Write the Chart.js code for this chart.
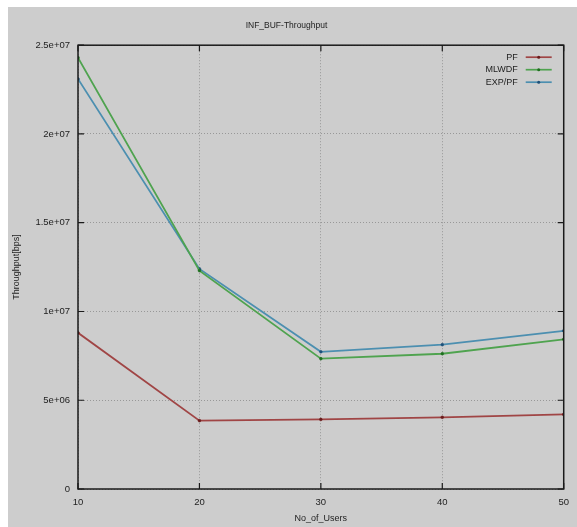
<!DOCTYPE html>
<html>
<head>
<meta charset="utf-8">
<script src="https://cdn.jsdelivr.net/npm/chart.js@4"></script>
<style>
  html, body { margin: 0; padding: 0; background: #ffffff; }
  #wrap { position: absolute; left: 8px; top: 7px; width: 569px; height: 520px; background: #cdcdcd; }
</style>
</head>
<body>
<div id="wrap"><canvas id="chart" width="569" height="520"></canvas></div>
<script>
// values
const users = [10, 20, 30, 40, 50];
const pf = [8.8e6, 3.85e6, 3.92e6, 4.04e6, 4.2e6];
const mlwdf = [24.3e6, 12.3e6, 7.34e6, 7.62e6, 8.43e6];
const exppf = [23.1e6, 12.4e6, 7.73e6, 8.13e6, 8.91e6];
const yTickLabels = { 0: '0', 5e6: '5e+06', 1e7: '1e+07', 1.5e7: '1.5e+07', 2e7: '2e+07', 2.5e7: '2.5e+07' };

const font = 'Liberation Sans';

function pts(vals) {
  return users.map((u, i) => ({ x: u, y: vals[i] }));
}

// gnuplot style frame with inward ticks
const framePlugin = {
  id: 'frame',
  afterDraw(chart) {
    const ctx = chart.ctx;
    const a = chart.chartArea;
    const xs = chart.scales.x, ys = chart.scales.y;
    ctx.save();
    ctx.strokeStyle = '#1a1a1a';
    ctx.lineWidth = 1.5;
    ctx.strokeRect(a.left, a.top, a.right - a.left, a.bottom - a.top);
    ctx.lineWidth = 1.2;
    ctx.beginPath();
    xs.ticks.forEach(t => {
      const x = xs.getPixelForValue(t.value);
      ctx.moveTo(x, a.bottom); ctx.lineTo(x, a.bottom - 6);
      ctx.moveTo(x, a.top); ctx.lineTo(x, a.top + 6);
    });
    ys.ticks.forEach(t => {
      const y = ys.getPixelForValue(t.value);
      ctx.moveTo(a.left, y); ctx.lineTo(a.left + 6, y);
      ctx.moveTo(a.right, y); ctx.lineTo(a.right - 6, y);
    });
    ctx.stroke();

    // legend, top right inside the plot
    ctx.font = '9px "' + font + '"';
    ctx.textAlign = 'right';
    ctx.textBaseline = 'middle';
    chart.data.datasets.forEach((ds, i) => {
      const y = a.top + 12 + i * 12.5;
      const xr = a.right - 46;
      ctx.fillStyle = '#222';
      ctx.fillText(ds.label, xr, y);
      ctx.strokeStyle = ds.borderColor;
      ctx.lineWidth = 1.7;
      ctx.beginPath();
      ctx.moveTo(xr + 8, y); ctx.lineTo(xr + 34, y);
      ctx.stroke();
      ctx.fillStyle = ds.pointBackgroundColor;
      ctx.beginPath();
      ctx.arc(xr + 21, y, 1.5, 0, Math.PI * 2);
      ctx.fill();
    });
    ctx.restore();
  }
};

function series(label, vals, line, dot) {
  return {
    label: label,
    data: pts(vals),
    borderColor: line,
    borderWidth: 1.8,
    pointBackgroundColor: dot,
    pointBorderColor: dot,
    pointRadius: 1.4,
    pointBorderWidth: 0.5,
    tension: 0,
    fill: false
  };
}

new Chart(document.getElementById('chart'), {
  type: 'line',
  data: {
    datasets: [
      series('PF', pf, '#a04545', '#6a1a1a'),
      series('MLWDF', mlwdf, '#4fa34f', '#1f6f1f'),
      series('EXP/PF', exppf, '#4c8fb0', '#1d4f78')
    ]
  },
  options: {
    responsive: false,
    animation: false,
    layout: { padding: { left: 0, right: 12, top: 0, bottom: 0 } },
    plugins: {
      legend: { display: false },
      tooltip: { enabled: false },
      title: {
        display: true,
        text: 'INF_BUF-Throughput',
        color: '#222',
        font: { family: font, size: 8.5, weight: 'normal' },
        padding: { top: 14, bottom: 14 }
      }
    },
    scales: {
      x: {
        type: 'linear',
        min: 10,
        max: 50,
        afterFit(scale) { scale.height = 38; },
        ticks: {
          stepSize: 10,
          padding: 8,
          color: '#222',
          font: { family: font, size: 9.5 }
        },
        grid: { color: '#8a8a8a', lineWidth: 0.8, drawTicks: false },
        border: { display: false, dash: [1, 2] },
        title: {
          display: true,
          text: 'No_of_Users',
          color: '#222',
          font: { family: font, size: 9 },
          padding: { top: 0, bottom: 3 }
        }
      },
      y: {
        min: 0,
        max: 2.5e7,
        afterFit(scale) { scale.width = 70; },
        ticks: {
          stepSize: 5e6,
          padding: 8,
          color: '#222',
          font: { family: font, size: 9.5 },
          callback: v => yTickLabels[v]
        },
        grid: { color: '#8a8a8a', lineWidth: 0.8, drawTicks: false },
        border: { display: false, dash: [1, 2] },
        title: {
          display: true,
          text: 'Throughput[bps]',
          color: '#222',
          font: { family: font, size: 9 },
          padding: { top: 3, bottom: 0 }
        }
      }
    }
  },
  plugins: [framePlugin]
});
</script>
</body>
</html>
